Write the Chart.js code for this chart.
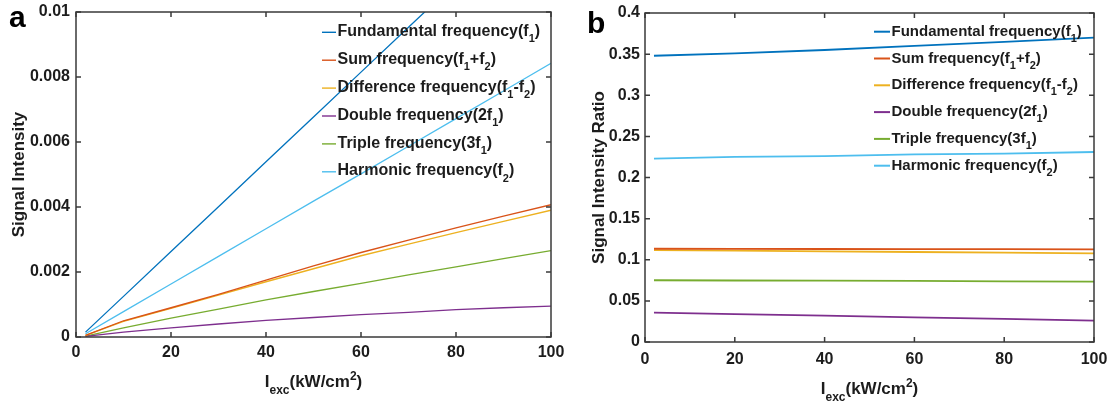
<!DOCTYPE html>
<html>
<head>
<meta charset="utf-8">
<script src="https://cdn.jsdelivr.net/npm/chart.js@4.4.1/dist/chart.umd.min.js"></script>
<style>
  html, body { margin: 0; padding: 0; background: #ffffff; }
  #wrap { position: relative; width: 1115px; height: 403px; overflow: hidden; }
  #wrap canvas { position: absolute; left: 0; top: 0; }
</style>
</head>
<body>
<div id="wrap">
  <canvas id="panelA" width="1115" height="403"></canvas>
  <canvas id="panelB" width="1115" height="403"></canvas>
</div>
<script>
// ---- Panel a: signal intensity vs excitation intensity ----
const excA = [2, 10, 20, 30, 40, 50, 60, 70, 80, 90, 100];
const fundamentalA = [0.00015, 0.00125, 0.00263, 0.00401, 0.00539, 0.00677, 0.00815, 0.00953, 0.01091, 0.01229, 0.01367];
const sumA         = [0.00005, 0.00050, 0.00090, 0.00131, 0.00175, 0.00219, 0.00260, 0.00298, 0.00336, 0.00372, 0.00407];
const differenceA  = [0.00005, 0.00048, 0.00088, 0.00129, 0.00170, 0.00210, 0.00250, 0.00286, 0.00321, 0.00356, 0.00390];
const doubleA      = [0.00002, 0.00015, 0.00028, 0.00040, 0.00051, 0.00060, 0.00069, 0.00076, 0.00084, 0.00090, 0.00095];
const tripleA      = [0.00003, 0.00028, 0.00058, 0.00086, 0.00114, 0.00140, 0.00165, 0.00191, 0.00216, 0.00241, 0.00266];
const harmonicA    = [0.00010, 0.00078, 0.00163, 0.00248, 0.00333, 0.00418, 0.00502, 0.00587, 0.00672, 0.00757, 0.00842];

// ---- Panel b: signal intensity ratio vs excitation intensity ----
const excB = [2, 20, 40, 60, 80, 100];
const fundamentalB = [0.348, 0.351, 0.355, 0.360, 0.365, 0.370];
const sumB         = [0.1134, 0.1133, 0.1131, 0.1130, 0.1128, 0.1126];
const differenceB  = [0.1117, 0.1110, 0.1102, 0.1094, 0.1086, 0.1077];
const doubleB      = [0.0357, 0.0340, 0.0320, 0.0300, 0.0280, 0.0259];
const tripleB      = [0.0751, 0.0748, 0.0745, 0.0742, 0.0738, 0.0735];
const harmonicB    = [0.223, 0.225, 0.226, 0.228, 0.229, 0.231];

// ---- Series names (underscore = subscript) ----
const seriesNames = [
  'Fundamental frequency(f_{1})',
  'Sum frequency(f_{1}+f_{2})',
  'Difference frequency(f_{1}-f_{2})',
  'Double frequency(2f_{1})',
  'Triple frequency(3f_{1})',
  'Harmonic frequency(f_{2})'
];
const seriesColors = ['#0072BD', '#D95319', '#EDB120', '#7E2F8E', '#77AC30', '#4DBEEE'];

// ---- Tick values and labels ----
const xTickValues = [0, 20, 40, 60, 80, 100];
const xTickLabels = ['0', '20', '40', '60', '80', '100'];
const yTickValuesA = [0, 0.002, 0.004, 0.006, 0.008, 0.01];
const yTickLabelsA = ['0', '0.002', '0.004', '0.006', '0.008', '0.01'];
const yTickValuesB = [0, 0.05, 0.1, 0.15, 0.2, 0.25, 0.3, 0.35, 0.4];
const yTickLabelsB = ['0', '0.05', '0.1', '0.15', '0.2', '0.25', '0.3', '0.35', '0.4'];

const FONT = '"Liberation Sans", Arial, sans-serif';
const TEXT = '#1c1c1c';
const AXIS = '#3a3a3a';

// Split "abc_{1}de^{2}" into plain / sub / sup runs
function parseRich(s) {
  const out = [];
  const re = /([_^])\{([^}]*)\}/g;
  let last = 0, m;
  while ((m = re.exec(s))) {
    if (m.index > last) out.push({ t: s.slice(last, m.index), m: 0 });
    out.push({ t: m[2], m: m[1] === '_' ? 1 : 2 });
    last = re.lastIndex;
  }
  if (last < s.length) out.push({ t: s.slice(last), m: 0 });
  return out;
}

function drawRich(ctx, str, x, y, size, align) {
  const parts = parseRich(str);
  const small = Math.round(size * 0.7);
  const fontFor = p => 'bold ' + (p.m ? small : size) + 'px ' + FONT;
  let w = 0;
  parts.forEach(p => { ctx.font = fontFor(p); w += ctx.measureText(p.t).width; });
  let cx = align === 'center' ? x - w / 2 : x;
  ctx.textAlign = 'left';
  ctx.textBaseline = 'alphabetic';
  ctx.fillStyle = TEXT;
  parts.forEach(p => {
    ctx.font = fontFor(p);
    const dy = p.m === 1 ? size * 0.4 : (p.m === 2 ? -size * 0.42 : 0);
    ctx.fillText(p.t, cx, y + dy);
    cx += ctx.measureText(p.t).width;
  });
}

// Frame with inward ticks on all four sides, legend, axis titles and panel letter
const panelDeco = {
  id: 'panelDeco',
  afterDraw(chart, args, o) {
    const { ctx, chartArea: a } = chart;
    const xs = chart.scales.x, ys = chart.scales.y;
    const TL = 5;
    ctx.save();
    ctx.strokeStyle = AXIS;
    ctx.lineWidth = 1.5;
    ctx.beginPath();
    xs.ticks.forEach(t => {
      const p = xs.getPixelForValue(t.value);
      ctx.moveTo(p, a.bottom); ctx.lineTo(p, a.bottom - TL);
      ctx.moveTo(p, a.top); ctx.lineTo(p, a.top + TL);
    });
    ys.ticks.forEach(t => {
      const p = ys.getPixelForValue(t.value);
      ctx.moveTo(a.left, p); ctx.lineTo(a.left + TL, p);
      ctx.moveTo(a.right, p); ctx.lineTo(a.right - TL, p);
    });
    ctx.stroke();
    ctx.strokeRect(a.left, a.top, a.right - a.left, a.bottom - a.top);

    // legend (no box)
    chart.data.datasets.forEach((ds, i) => {
      const ly = o.legendY + i * o.legendGap;
      ctx.strokeStyle = ds.borderColor;
      ctx.lineWidth = o.legendLineWidth;
      ctx.beginPath();
      ctx.moveTo(o.legendX, ly);
      ctx.lineTo(o.legendX + o.legendLen, ly);
      ctx.stroke();
      drawRich(ctx, ds.label, o.legendX + o.legendLen + 1.5, ly + o.legendBase, o.legendFont, 'left');
    });

    // x title
    drawRich(ctx, 'I_{exc}(kW/cm^{2})', (a.left + a.right) / 2 + o.xTitleDx, o.xTitleY, 17, 'center');

    // y title
    ctx.save();
    ctx.translate(o.yTitleX, (a.top + a.bottom) / 2);
    ctx.rotate(-Math.PI / 2);
    ctx.font = 'bold 17px ' + FONT;
    ctx.fillStyle = TEXT;
    ctx.textAlign = 'center';
    ctx.textBaseline = 'middle';
    ctx.fillText(o.yTitle, 0, 0);
    ctx.restore();

    // panel letter
    ctx.font = 'bold 30px ' + FONT;
    ctx.fillStyle = '#000';
    ctx.textAlign = 'left';
    ctx.textBaseline = 'alphabetic';
    ctx.fillText(o.letter, o.letterX, o.letterY);
    ctx.restore();
  }
};

function makeSeries(xs, ys) { return xs.map((x, i) => ({ x: x, y: ys[i] })); }

function buildPanel(id, cfg) {
  const datasets = cfg.series.map((vals, i) => ({
    label: seriesNames[i],
    data: makeSeries(cfg.xs, vals),
    borderColor: seriesColors[i],
    backgroundColor: seriesColors[i],
    borderWidth: cfg.lineWidth,
    pointRadius: 0,
    tension: 0,
    fill: false
  }));
  return new Chart(document.getElementById(id), {
    type: 'line',
    data: { datasets: datasets },
    plugins: [panelDeco],
    options: {
      responsive: false,
      animation: false,
      devicePixelRatio: 1,
      events: [],
      layout: { padding: cfg.padding },
      plugins: {
        legend: { display: false },
        tooltip: { enabled: false },
        panelDeco: cfg.deco
      },
      scales: {
        x: {
          type: 'linear', min: 0, max: 100,
          afterBuildTicks: s => { s.ticks = xTickValues.map(v => ({ value: v })); },
          ticks: {
            callback: (v, i) => xTickLabels[i],
            font: { family: FONT, weight: 'bold', size: 16 },
            color: TEXT, padding: cfg.xTickPad, maxRotation: 0, autoSkip: false
          },
          grid: { display: false, drawTicks: false },
          border: { display: false },
          afterFit: s => { s.height = cfg.xAxisH; s.paddingLeft = 0; s.paddingRight = 0; }
        },
        y: {
          type: 'linear', min: cfg.yMin, max: cfg.yMax,
          afterBuildTicks: s => { s.ticks = cfg.yTicks.map(v => ({ value: v })); },
          ticks: {
            callback: (v, i) => cfg.yLabels[i],
            font: { family: FONT, weight: 'bold', size: 16 },
            color: TEXT, padding: cfg.yTickPad, autoSkip: false
          },
          grid: { display: false, drawTicks: false },
          border: { display: false },
          afterFit: s => { s.width = cfg.yAxisW; s.paddingTop = 0; s.paddingBottom = 0; }
        }
      }
    }
  });
}

buildPanel('panelA', {
  xs: excA,
  series: [fundamentalA, sumA, differenceA, doubleA, tripleA, harmonicA],
  lineWidth: 1.3,
  yMin: 0, yMax: 0.01, yTicks: yTickValuesA, yLabels: yTickLabelsA,
  padding: { left: 0, top: 12, right: 564, bottom: 0 },
  yAxisW: 76, xAxisH: 66, xTickPad: 6, yTickPad: 6,
  deco: {
    letter: 'a', letterX: 9, letterY: 27,
    yTitle: 'Signal Intensity', yTitleX: 19,
    xTitleY: 387, xTitleDx: 0,
    legendX: 322, legendLen: 14, legendY: 32.3, legendGap: 27.9, legendBase: 3.6,
    legendFont: 16, legendLineWidth: 1.4
  }
});

buildPanel('panelB', {
  xs: excB,
  series: [fundamentalB, sumB, differenceB, doubleB, tripleB, harmonicB],
  lineWidth: 1.8,
  yMin: 0, yMax: 0.4, yTicks: yTickValuesB, yLabels: yTickLabelsB,
  padding: { left: 585, top: 13, right: 21, bottom: 0 },
  yAxisW: 60, xAxisH: 61, xTickPad: 8, yTickPad: 5,
  deco: {
    letter: 'b', letterX: 587, letterY: 33,
    yTitle: 'Signal Intensity Ratio', yTitleX: 599,
    xTitleY: 394, xTitleDx: 0,
    legendX: 874, legendLen: 16, legendY: 31.7, legendGap: 26.8, legendBase: 4,
    legendFont: 15, legendLineWidth: 2
  }
});
</script>
</body>
</html>
